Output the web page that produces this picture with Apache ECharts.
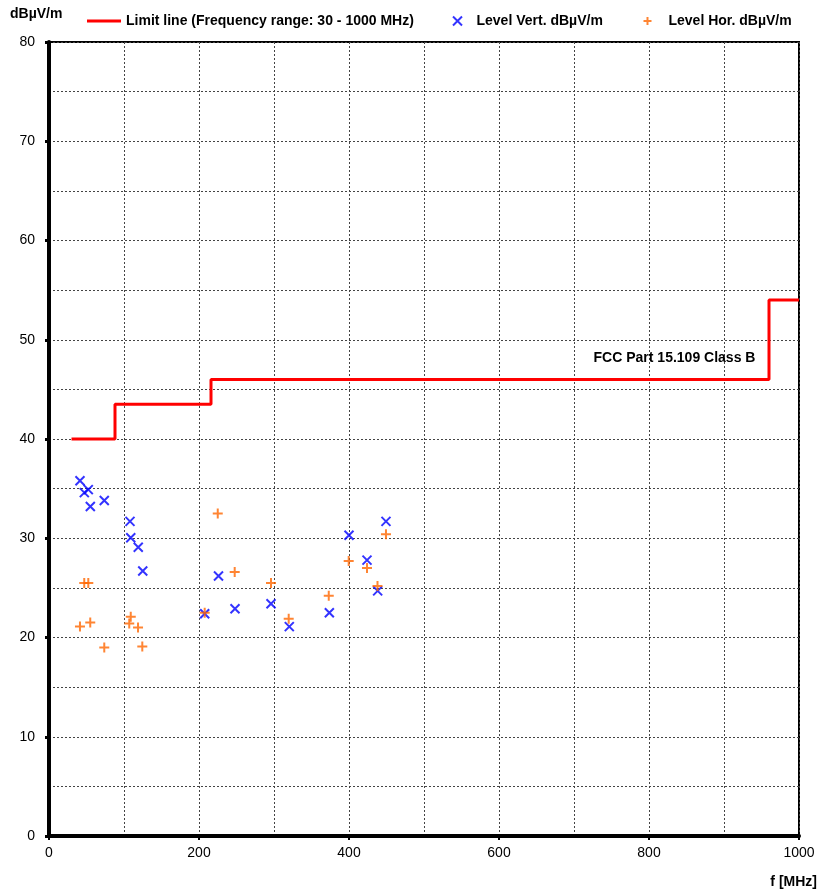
<!DOCTYPE html>
<html>
<head>
<meta charset="utf-8">
<script src="https://cdn.jsdelivr.net/npm/echarts@6/dist/echarts.min.js"></script>
<style>
  html, body { margin: 0; padding: 0; background: #fff; }
  #chart { width: 818px; height: 890px; }
</style>
</head>
<body>
<div id="chart"></div>
<script>
// FCC Part 15.109 Class B limit (MHz, dBµV/m)
const limitLine = [
  [30, 40], [88, 40], [88, 43.5], [216, 43.5],
  [216, 46], [960, 46], [960, 54], [1000, 54]
];

// measured levels, vertical polarisation
const levelVert = [
  [41.3, 35.8], [47.1, 34.6], [52.4, 34.9], [55.1, 33.2], [73.7, 33.8],
  [108, 31.7], [109, 30.05], [119, 29.1], [125, 26.7], [207.6, 22.4],
  [226, 26.2], [248, 22.9], [296, 23.4], [320.4, 21.1], [373.8, 22.5],
  [400, 30.3], [424, 27.8], [438.2, 24.7], [449.3, 31.7]
];

// measured levels, horizontal polarisation
const levelHor = [
  [41.3, 21.1], [47, 25.5], [52.4, 25.5], [55, 21.5], [73.7, 19.0],
  [107, 21.4], [109, 22.1], [118.7, 21.0], [124.4, 19.1], [207.6, 22.5],
  [225, 32.5], [247.6, 26.6], [296, 25.5], [319.6, 21.9], [373, 24.2],
  [399.6, 27.7], [424, 27.0], [438, 25.2], [449.3, 30.4]
];

const xTicks = [0, 200, 400, 600, 800, 1000];
const yTicks = [0, 10, 20, 30, 40, 50, 60, 70, 80];

const LIMIT = "Limit line (Frequency range: 30 - 1000 MHz)";
const VERT = "Level Vert. dBµV/m";
const HOR = "Level Hor. dBµV/m";

const font = "'Liberation Sans', Arial, sans-serif";
const crossX = "path://M0,0L10,10M10,0L0,10";
const crossPlus = "path://M5,0L5,10M0,5L10,5";

const gridDash = { color: "#444", width: 1, type: [2, 2] };
const legendText = { fontFamily: font, fontWeight: "bold", fontSize: 14, color: "#000" };

const chart = echarts.init(document.getElementById("chart"));

chart.setOption({
  animation: false,
  textStyle: { fontFamily: font },
  grid: {
    left: 49, right: 19, top: 42, bottom: 54,
    show: true, borderColor: "#000", borderWidth: 2
  },
  legend: [
    { top: 14, left: 87, padding: 0, itemWidth: 34, itemHeight: 3, textStyle: legendText,
      data: [{ name: LIMIT, icon: "rect", itemStyle: { color: "#ff0000" } }] },
    { top: 14, left: 450.5, padding: 0, itemWidth: 28, itemHeight: 9, textStyle: legendText,
      data: [VERT] },
    { top: 14, left: 641, padding: 0, itemWidth: 32, itemHeight: 8, textStyle: legendText,
      data: [HOR] }
  ],
  graphic: [
    { type: "text", left: 10, top: 7,
      style: { text: "dBµV/m", font: "bold 14px " + font, fill: "#000" } },
    { type: "text", right: 1, top: 875,
      style: { text: "f [MHz]", font: "bold 14px " + font, fill: "#000" } }
  ],
  xAxis: {
    type: "value",
    min: 0, max: 1000, interval: 200,
    axisLine: { lineStyle: { color: "#000", width: 4 } },
    axisTick: { show: true, length: 4, lineStyle: { color: "#000", width: 2 } },
    axisLabel: {
      color: "#000", fontSize: 14, margin: 10,
      formatter: v => (xTicks.includes(v) ? String(v) : "")
    },
    splitLine: { show: true, lineStyle: gridDash },
    minorTick: { show: false, splitNumber: 2 },
    minorSplitLine: { show: true, lineStyle: gridDash }
  },
  yAxis: {
    type: "value",
    min: 0, max: 80, interval: 10,
    axisLine: { lineStyle: { color: "#000", width: 4 } },
    axisTick: { show: true, length: 4, lineStyle: { color: "#000", width: 3 } },
    axisLabel: {
      color: "#000", fontSize: 14, margin: 14,
      formatter: v => (yTicks.includes(v) ? String(v) : "")
    },
    splitLine: { show: true, lineStyle: gridDash },
    minorTick: { show: false, splitNumber: 2 },
    minorSplitLine: { show: true, lineStyle: gridDash }
  },
  series: [
    {
      name: LIMIT,
      type: "line",
      data: limitLine,
      showSymbol: false,
      lineStyle: { color: "#ff0000", width: 3 },
      itemStyle: { color: "#ff0000" },
      z: 3,
      markPoint: {
        symbol: "circle",
        symbolSize: 0,
        label: {
          show: true,
          formatter: "FCC Part 15.109 Class B",
          fontFamily: font, fontWeight: "bold", fontSize: 14, color: "#000"
        },
        data: [{ coord: [834, 48.1] }]
      }
    },
    {
      name: VERT,
      type: "scatter",
      data: levelVert,
      symbol: crossX,
      symbolSize: 9,
      itemStyle: { color: "none", borderColor: "#0000ff", borderWidth: 2 },
      z: 4
    },
    {
      name: HOR,
      type: "scatter",
      data: levelHor,
      symbol: crossPlus,
      symbolSize: 10,
      itemStyle: { color: "none", borderColor: "#ff6600", borderWidth: 2 },
      z: 5
    }
  ]
});
</script>
</body>
</html>
